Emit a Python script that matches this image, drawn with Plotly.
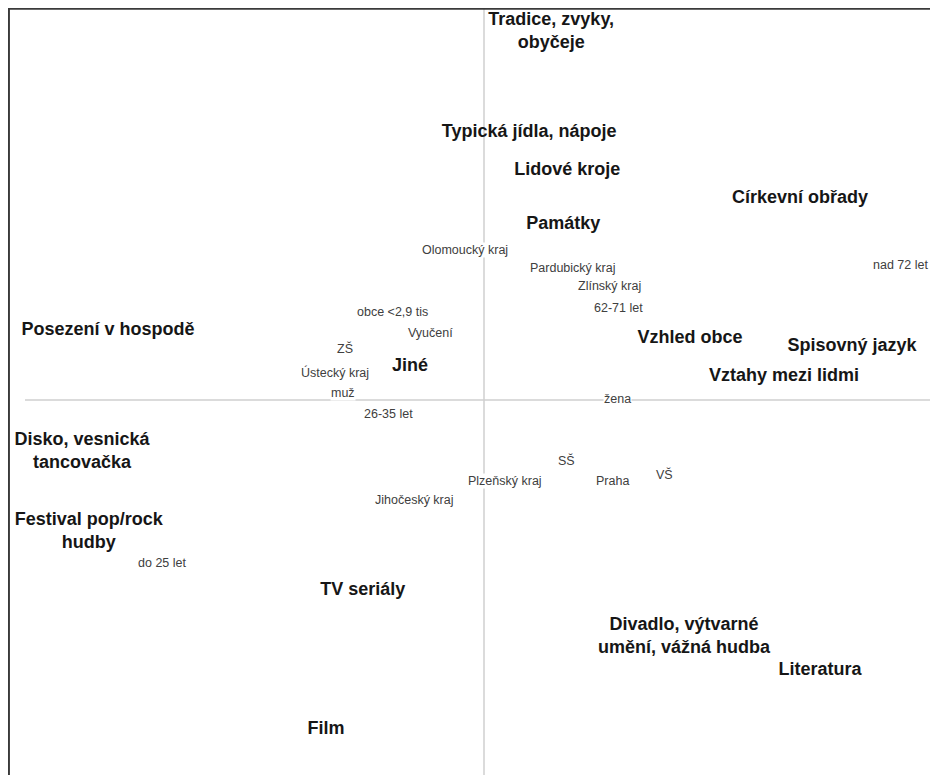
import plotly.graph_objects as go

# Correspondence map: categories (bold) and respondent groups (small)
cat_labels = ['Tradice, zvyky,<br>obyčeje', 'Typická jídla, nápoje', 'Lidové kroje',
              'Církevní obřady', 'Památky', 'Posezení v hospodě', 'Vzhled obce',
              'Spisovný jazyk', 'Jiné', 'Vztahy mezi lidmi', 'Disko, vesnická<br>tancovačka',
              'Festival pop/rock<br>hudby', 'TV seriály', 'Divadlo, výtvarné<br>umění, vážná hudba',
              'Literatura', 'Film']
cat_x = [0.168, 0.113, 0.208, 0.79, 0.198, -0.94, 0.515, 0.92, -0.185, 0.75,
         -1.005, -0.988, -0.303, 0.5, 0.84, -0.395]
cat_y = [0.92, 0.67, 0.575, 0.503, 0.438, 0.173, 0.155, 0.135, 0.083, 0.058,
         -0.13, -0.33, -0.475, -0.593, -0.675, -0.823]

grp_labels = ['Olomoucký kraj', 'Pardubický kraj', 'Zlínský kraj', 'nad 72 let', '62-71 let',
              'obce &lt;2,9 tis', 'Vyučení', 'ZŠ', 'Ústecký kraj', 'muž', '26-35 let', 'žena',
              'SŠ', 'Plzeňský kraj', 'Praha', 'VŠ', 'Jihočeský kraj', 'do 25 let']
grp_x = [-0.048, 0.22, 0.313, 1.04, 0.335, -0.228, -0.135, -0.348, -0.373, -0.353,
         -0.24, 0.333, 0.205, 0.053, 0.32, 0.45, -0.175, -0.805]
grp_y = [0.375, 0.33, 0.285, 0.338, 0.23, 0.22, 0.168, 0.128, 0.07, 0.018,
         -0.035, 0.003, -0.15, -0.203, -0.203, -0.185, -0.25, -0.408]

fig = go.Figure()

fig.add_trace(go.Scatter(
    x=cat_x, y=cat_y, text=cat_labels, mode='text',
    textfont=dict(family='Liberation Sans', size=18, color='#161616', weight='bold'),
    hoverinfo='text', showlegend=False
))

# small labels as annotations so they mask the axis lines like the original
for lbl, gx, gy in zip(grp_labels, grp_x, grp_y):
    fig.add_annotation(x=gx, y=gy, text=lbl, showarrow=False, bgcolor='white',
                       borderpad=0,
                       font=dict(family='Liberation Sans', size=12.5, color='#404040'))

fig.add_shape(type='line', xref='x', yref='y', x0=-1.1475, x1=1.2, y0=0, y1=0,
              line=dict(color='#cfcfcf', width=1.5), layer='below')
fig.add_shape(type='line', xref='x', yref='paper', x0=0, x1=0, y0=0, y1=1,
              line=dict(color='#cfcfcf', width=1.5), layer='below')
# frame (top and left only)
fig.add_shape(type='line', xref='paper', yref='paper', x0=0, x1=1, y0=0.999, y1=0.999,
              line=dict(color='#3a3a3a', width=2))
fig.add_shape(type='line', xref='paper', yref='paper', x0=0.001, x1=0.001, y0=0, y1=1,
              line=dict(color='#3a3a3a', width=2))

fig.update_layout(
    width=930, height=767,
    margin=dict(l=0, r=0, t=0, b=0),
    paper_bgcolor='white', plot_bgcolor='white',
    xaxis=dict(range=[-1.19, 1.135], visible=False),
    yaxis=dict(range=[-0.9375, 0.98], visible=False),
    showlegend=False
)

fig.write_html("out.html")
